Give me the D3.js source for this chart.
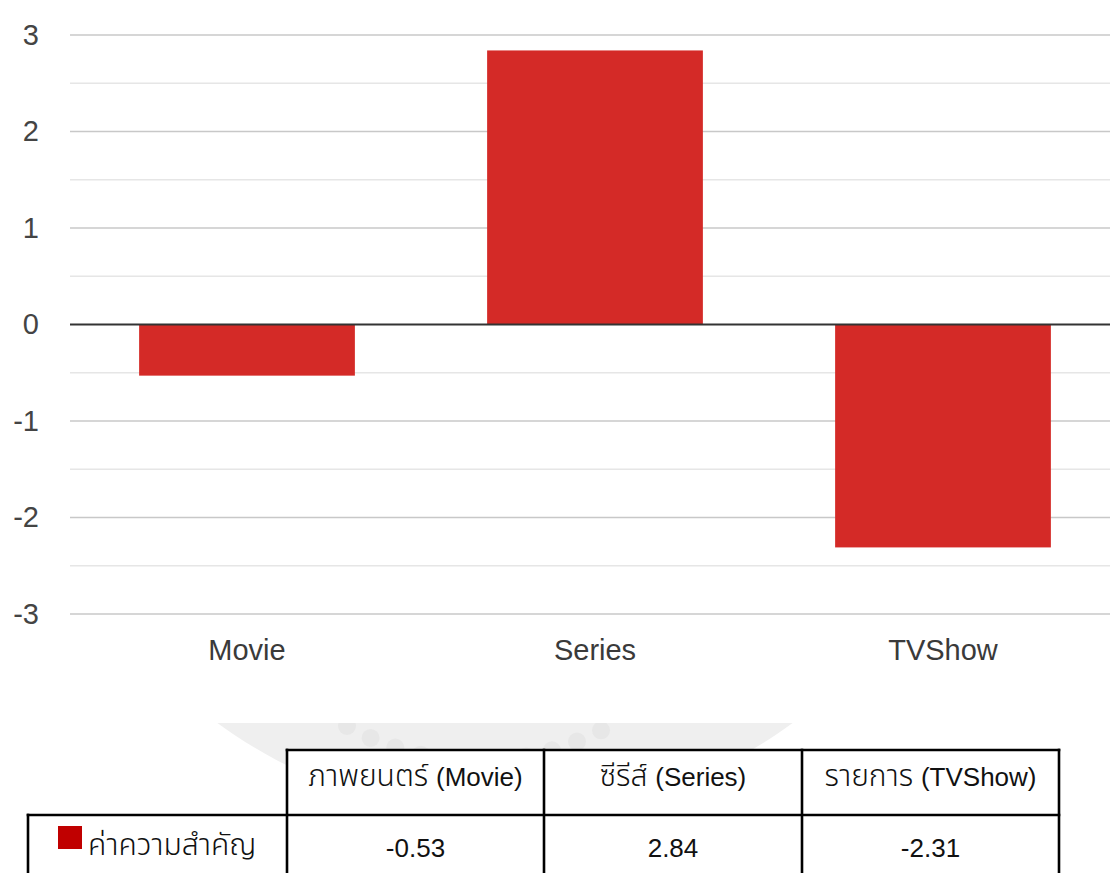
<!DOCTYPE html>
<html>
<head>
<meta charset="utf-8">
<script src="https://cdn.jsdelivr.net/npm/d3@7"></script>
<style>
  html, body { margin: 0; padding: 0; background: #fff; }
  svg { display: block; }
</style>
</head>
<body>
<svg id="chart" width="1110" height="873"></svg>
<script>
// Importance score per content type
const categories = ["Movie", "Series", "TVShow"];
const values = [-0.53, 2.84, -2.31];
const yTicks = [-3, -2, -1, 0, 1, 2, 3];
const headerThai = ["ภาพยนตร์", "ซีรีส์", "รายการ"];
const headerLatin = ["(Movie)", "(Series)", "(TVShow)"];
const seriesName = "ค่าความสำคัญ";

const W = 1110, H = 873;
const svg = d3.select("#chart");
const latin = "'Liberation Sans', Arial, Helvetica, sans-serif";
const thai = "'Noto Sans Thai', 'Liberation Sans', Arial, sans-serif";

// plain hyphen for negative numbers
const locale = d3.formatLocale({ decimal: ".", thousands: ",", grouping: [3], currency: ["", ""], minus: "-" });

svg.append("rect").attr("width", W).attr("height", H).attr("fill", "#fff");

// ---- faint emblem behind the table ----
svg.append("clipPath").attr("id", "emblemClip")
  .append("rect").attr("x", 0).attr("y", 723).attr("width", W).attr("height", H - 723);
const emblem = svg.append("g").attr("clip-path", "url(#emblemClip)");
emblem.append("circle").attr("cx", 505).attr("cy", 330).attr("r", 487).attr("fill", "#efefef");
const dotAngles = d3.range(-30, 31, 5.8);
emblem.selectAll("circle.dot").data(dotAngles).join("circle")
  .attr("class", "dot")
  .attr("cx", a => 478 + 262 * Math.sin(a * Math.PI / 180))
  .attr("cy", a => 499 + 262 * Math.cos(a * Math.PI / 180))
  .attr("r", 9)
  .attr("fill", "#e7e7e7");

// ---- column chart ----
const gridLeft = 70, gridRight = W;
const y = d3.scaleLinear().domain([-3, 3]).range([614, 35]);
const x = d3.scaleBand().domain(categories).range([73, 1117])
  .paddingInner(0.38).paddingOuter(0.19);

// half-step grid lines
const minor = d3.range(-2.5, 3, 1);
svg.append("g").selectAll("line").data(minor).join("line")
  .attr("x1", gridLeft).attr("x2", gridRight)
  .attr("y1", d => y(d)).attr("y2", d => y(d))
  .attr("stroke", "#e6e6e6").attr("stroke-width", 1.5);

// whole-step grid lines
svg.append("g").selectAll("line").data(yTicks.filter(d => d !== 0)).join("line")
  .attr("x1", gridLeft).attr("x2", gridRight)
  .attr("y1", d => y(d)).attr("y2", d => y(d))
  .attr("stroke", "#c8c8c8").attr("stroke-width", 1.6);

// y axis labels
const yAxis = svg.append("g").attr("transform", `translate(${gridLeft},0)`)
  .call(d3.axisLeft(y).tickValues(yTicks).tickSize(0).tickPadding(31).tickFormat(locale.format("d")));
yAxis.select(".domain").remove();
yAxis.selectAll("text")
  .attr("font-family", latin).attr("font-size", 29).attr("fill", "#444");

// bars
svg.append("g").selectAll("rect").data(values).join("rect")
  .attr("x", (d, i) => x(categories[i]))
  .attr("width", x.bandwidth())
  .attr("y", d => y(Math.max(0, d)))
  .attr("height", d => Math.abs(y(d) - y(0)))
  .attr("fill", "#d42a27");

// baseline
svg.append("line")
  .attr("x1", gridLeft).attr("x2", gridRight)
  .attr("y1", y(0)).attr("y2", y(0))
  .attr("stroke", "#333").attr("stroke-width", 2);

// category labels
const xAxis = svg.append("g").attr("transform", `translate(0,${y(-3)})`)
  .call(d3.axisBottom(x).tickSize(0));
xAxis.select(".domain").remove();
xAxis.selectAll("text")
  .attr("y", 46).attr("dy", null)
  .attr("font-family", latin).attr("font-size", 29).attr("fill", "#3a3a3a");

// ---- data table ----
const colX = [28, 287, 544, 802, 1059];
const rowY = [750, 815, 880];
const table = svg.append("g");

// cell backgrounds (the top-left corner cell is left open)
const cells = [];
for (let r = 0; r < 2; r++) for (let c = 0; c < 4; c++) {
  if (r === 0 && c === 0) continue;
  cells.push({ r, c });
}
table.selectAll("rect").data(cells).join("rect")
  .attr("x", d => colX[d.c]).attr("y", d => rowY[d.r])
  .attr("width", d => colX[d.c + 1] - colX[d.c])
  .attr("height", d => rowY[d.r + 1] - rowY[d.r])
  .attr("fill", "#fff");

const lines = [
  [colX[1], rowY[0], colX[4], rowY[0]],
  [colX[0], rowY[1], colX[4], rowY[1]],
  [colX[0], rowY[1], colX[0], rowY[2]],
  [colX[1], rowY[0], colX[1], rowY[2]],
  [colX[2], rowY[0], colX[2], rowY[2]],
  [colX[3], rowY[0], colX[3], rowY[2]],
  [colX[4], rowY[0], colX[4], rowY[2]]
];
table.selectAll("line").data(lines).join("line")
  .attr("x1", d => d[0]).attr("y1", d => d[1])
  .attr("x2", d => d[2]).attr("y2", d => d[3])
  .attr("stroke", "#000").attr("stroke-width", 2.6)
  .attr("stroke-linecap", "square");

// header row: Thai name followed by the English name in brackets
const heads = table.selectAll("text.head").data(headerThai).join("text")
  .attr("class", "head")
  .attr("x", (d, i) => (colX[i + 1] + colX[i + 2]) / 2)
  .attr("y", 786)
  .attr("text-anchor", "middle")
  .attr("fill", "#111");
heads.append("tspan")
  .attr("font-family", thai).attr("font-size", 30).attr("font-weight", 300)
  .text(d => d + " ");
heads.append("tspan")
  .attr("font-family", latin).attr("font-size", 26)
  .text((d, i) => headerLatin[i]);

// value row
const fmt = locale.format(".2f");
table.selectAll("text.val").data(values).join("text")
  .attr("class", "val")
  .attr("x", (d, i) => (colX[i + 1] + colX[i + 2]) / 2)
  .attr("y", 857)
  .attr("text-anchor", "middle")
  .attr("font-family", latin).attr("font-size", 26).attr("fill", "#111")
  .text(d => fmt(d));

// series key
table.append("rect")
  .attr("x", 58).attr("y", 826).attr("width", 24).attr("height", 23)
  .attr("fill", "#c00000");
table.append("text")
  .attr("x", 88).attr("y", 855)
  .attr("font-family", thai).attr("font-size", 30).attr("font-weight", 300).attr("fill", "#111")
  .text(seriesName);
</script>
</body>
</html>
